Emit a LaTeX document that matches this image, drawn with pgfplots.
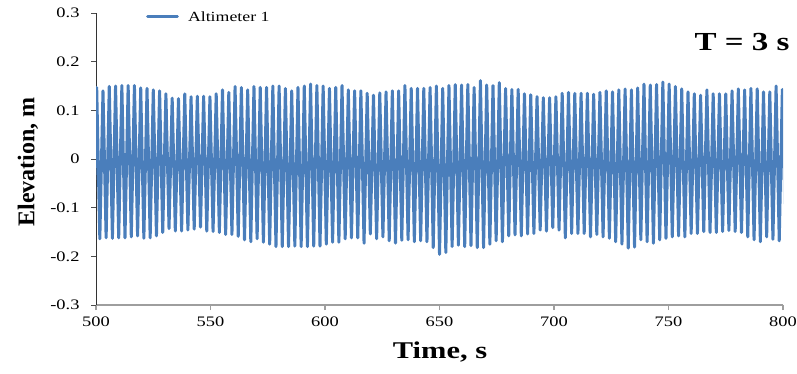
\documentclass[border=0pt]{standalone}
\usepackage{pgfplots}
\usepackage{pgfplotstable}
\pgfplotsset{compat=1.18}
\usepackage{fontspec}
\setmainfont{Liberation Serif}[FakeStretch=1.27]
\newfontfamily\plainserif{Liberation Serif}
\definecolor{lineblue}{RGB}{74,126,187}
\pgfplotstableread{
t y
498.93 -0.160
500.30 0.147
501.67 -0.164
503.05 0.140
504.42 -0.162
505.79 0.149
507.17 -0.163
508.54 0.150
509.91 -0.162
511.29 0.151
512.66 -0.162
514.04 0.151
515.41 -0.160
516.78 0.151
518.16 -0.158
519.53 0.146
520.90 -0.163
522.28 0.145
523.65 -0.162
525.02 0.142
526.40 -0.158
527.77 0.140
529.14 -0.151
530.52 0.134
531.89 -0.143
533.26 0.125
534.64 -0.148
536.01 0.124
537.38 -0.148
538.76 0.134
540.13 -0.146
541.51 0.128
542.88 -0.144
544.25 0.129
545.63 -0.140
547.00 0.129
548.37 -0.148
549.75 0.128
551.12 -0.149
552.49 0.134
553.87 -0.151
555.24 0.142
556.61 -0.155
557.99 0.137
559.36 -0.155
560.73 0.149
562.11 -0.159
563.48 0.147
564.85 -0.166
566.23 0.142
567.60 -0.170
568.98 0.149
570.35 -0.164
571.72 0.147
573.10 -0.171
574.47 0.147
575.84 -0.175
577.22 0.150
578.59 -0.180
579.96 0.150
581.34 -0.180
582.71 0.145
584.08 -0.180
585.46 0.140
586.83 -0.179
588.20 0.147
589.58 -0.180
590.95 0.150
592.32 -0.180
593.70 0.154
595.07 -0.179
596.45 0.151
597.82 -0.179
599.19 0.150
600.57 -0.175
601.94 0.145
603.31 -0.171
604.69 0.147
606.06 -0.171
607.43 0.151
608.81 -0.164
610.18 0.142
611.55 -0.162
612.93 0.140
614.30 -0.162
615.67 0.140
617.05 -0.173
618.42 0.135
619.79 -0.154
621.17 0.131
622.54 -0.164
623.92 0.136
625.29 -0.160
626.66 0.138
628.04 -0.168
629.41 0.140
630.78 -0.173
632.16 0.140
633.53 -0.167
634.90 0.151
636.28 -0.166
637.65 0.145
639.02 -0.170
640.40 0.145
641.77 -0.168
643.14 0.145
644.52 -0.170
645.89 0.147
647.26 -0.182
648.64 0.150
650.01 -0.196
651.39 0.145
652.76 -0.192
654.13 0.151
655.51 -0.180
656.88 0.153
658.25 -0.177
659.63 0.152
661.00 -0.180
662.37 0.153
663.75 -0.178
665.12 0.147
666.49 -0.182
667.87 0.161
669.24 -0.182
670.61 0.152
671.99 -0.175
673.36 0.151
674.73 -0.168
676.11 0.157
677.48 -0.170
678.86 0.145
680.23 -0.158
681.60 0.143
682.98 -0.156
684.35 0.143
685.72 -0.158
687.10 0.134
688.47 -0.154
689.84 0.132
691.22 -0.153
692.59 0.128
693.96 -0.146
695.34 0.126
696.71 -0.148
698.08 0.126
699.46 -0.141
700.83 0.128
702.20 -0.146
703.58 0.135
704.95 -0.162
706.33 0.137
707.70 -0.153
709.07 0.135
710.45 -0.153
711.82 0.135
713.19 -0.153
714.57 0.135
715.94 -0.160
717.31 0.133
718.69 -0.155
720.06 0.137
721.43 -0.160
722.81 0.140
724.18 -0.163
725.55 0.138
726.93 -0.170
728.30 0.142
729.67 -0.175
731.05 0.144
732.42 -0.183
733.80 0.142
735.17 -0.181
736.54 0.146
737.92 -0.166
739.29 0.154
740.66 -0.170
742.04 0.152
743.41 -0.173
744.78 0.153
746.16 -0.166
747.53 0.158
748.90 -0.163
750.28 0.154
751.65 -0.160
753.02 0.149
754.40 -0.158
755.77 0.144
757.14 -0.160
758.52 0.138
759.89 -0.153
761.27 0.134
762.64 -0.153
764.01 0.131
765.39 -0.149
766.76 0.142
768.13 -0.151
769.51 0.134
770.88 -0.151
772.25 0.134
773.63 -0.149
775.00 0.134
776.37 -0.147
777.75 0.140
779.12 -0.149
780.49 0.144
781.87 -0.151
783.24 0.142
784.61 -0.160
785.99 0.145
787.36 -0.166
788.74 0.144
790.11 -0.170
791.48 0.138
792.86 -0.160
794.23 0.138
795.60 -0.165
796.98 0.150
798.35 -0.168
799.72 0.143
801.10 -0.170
}\wavedata
\begin{document}
\begin{tikzpicture}
\useasboundingbox (0pt,0pt) rectangle (797pt,373pt);
\begin{axis}[
  at={(96pt,68pt)}, anchor=south west,
  width=687pt, height=292pt, scale only axis,
  xmin=500, xmax=800, ymin=-0.3, ymax=0.3,
  axis x line=bottom, axis y line=left,
  x axis line style={-, draw=black!38, line width=1.6pt},
  y axis line style={-, draw=black!80, line width=0.8pt},
  xtick={500,550,600,650,700,750,800},
  xticklabels={500,550,600,650,700,750,800},
  ytick={-0.3,-0.2,-0.1,0,0.1,0.2,0.3},
  yticklabels={-0.3,-0.2,-0.1,0,0.1,0.2,0.3},
  tick align=outside, major tick length=5pt,
  x tick style={draw=black!38, line width=1.2pt},
  y tick style={draw=black!70, line width=0.8pt},
  tick label style={font=\fontsize{14.5}{14.5}\selectfont},
  xticklabel style={yshift=-3pt},
  yticklabel style={xshift=-8pt},
  legend style={at={(axis cs:521.8,0.292)}, anchor=west, draw=none, fill=none,
    font=\fontsize{14}{14}\selectfont, inner sep=0pt},
  legend image code/.code={\draw[#1, line width=2.8pt] (0pt,0pt) -- (30pt,0pt); \path (37pt,0pt);},
  clip=true,
]
\addplot[lineblue, line width=3.0pt, line join=round, line cap=round] table[x=t,y=y] {\wavedata};
\addlegendentry{Altimeter 1}
\end{axis}
\node[font=\bfseries\fontsize{26}{26}\selectfont] at (742pt,331pt) {T = 3 s};
\node[rotate=90, font=\plainserif\bfseries\fontsize{24}{24}\selectfont] at (28pt,211pt) {Elevation, m};
\node[font=\bfseries\fontsize{24}{24}\selectfont] at (440pt,21pt) {Time, s};
\end{tikzpicture}
\end{document}
